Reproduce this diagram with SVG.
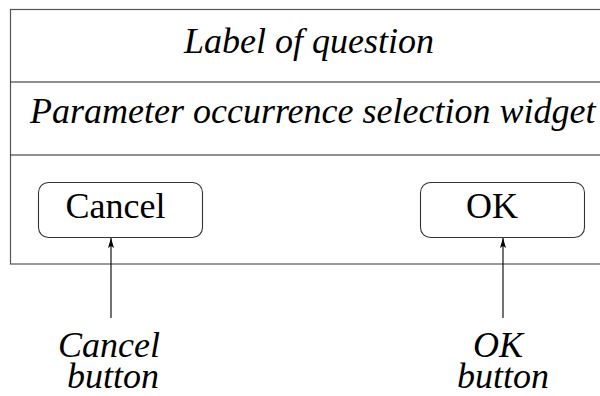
<svg xmlns="http://www.w3.org/2000/svg" width="600" height="396" viewBox="0 0 600 396">
<defs>
<style>
.frame{fill:#fff;stroke:#555;stroke-width:1.2}
.sep{stroke:#222;stroke-width:1.2}
.btn{fill:#fff;stroke:#333;stroke-width:1.1}
.c{stroke:#000;stroke-width:1.1;fill:none}
.it{font-style:italic}
</style>
<marker id="ah" viewBox="0 0 10 6" refX="10" refY="3" markerWidth="10" markerHeight="6" markerUnits="userSpaceOnUse" orient="auto">
<path d="M0,0 L10,3 L0,6 L2,3 Z" fill="#000"/>
</marker>
</defs>
<rect width="600" height="396" fill="#fff"/>
<g font-family="'Liberation Serif', 'Times New Roman', serif" font-size="36" fill="#000">
<g id="dialog">
<rect class="frame" x="10.5" y="9.5" width="620" height="254.5"/>
<line class="sep" x1="10.5" y1="82" x2="600" y2="82"/>
<line class="sep" x1="10.5" y1="155" x2="600" y2="155"/>
<text class="it" x="309" y="53" text-anchor="middle">Label of question</text>
<text class="it" x="30" y="123">Parameter occurrence selection widget</text>
</g>
<g id="cancel">
<rect class="btn" x="38.5" y="182.5" width="164" height="55" rx="10"/>
<text x="115.5" y="218" text-anchor="middle">Cancel</text>
</g>
<g id="ok">
<rect class="btn" x="420.5" y="182.5" width="164" height="55" rx="10"/>
<text x="492" y="218" text-anchor="middle">OK</text>
</g>
<g id="connectors">
<line class="c" x1="111" y1="318" x2="111" y2="238" marker-end="url(#ah)"/>
<line class="c" x1="503" y1="318" x2="503" y2="238" marker-end="url(#ah)"/>
</g>
<g id="cancel-label" class="it">
<text x="109" y="357" text-anchor="middle">Cancel</text>
<text x="113" y="388" text-anchor="middle">button</text>
</g>
<g id="ok-label" class="it">
<text x="498" y="357" text-anchor="middle">OK</text>
<text x="503" y="388" text-anchor="middle">button</text>
</g>
</g>
</svg>
